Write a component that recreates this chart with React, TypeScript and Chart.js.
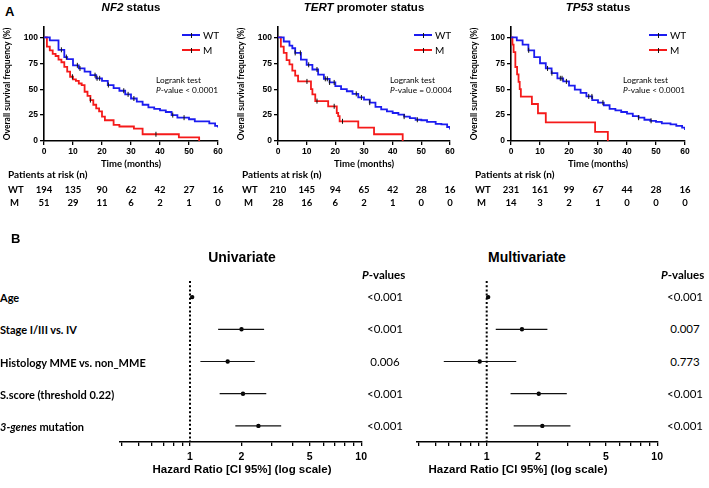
import React, { useEffect, useRef } from 'react';
import { Chart, registerables } from 'chart.js';
Chart.register(...registerables);

// ---------------- DATA ----------------
const MONTH_TICKS = [0, 10, 20, 30, 40, 50, 60];
const SURV_TICKS = [0, 25, 50, 75, 100];

// NF2
const NF2_WT_T = [0, 2, 5, 7, 8, 10, 12, 14, 16, 18, 20, 22, 24, 26, 28, 30, 32, 34, 36, 38, 40, 42, 44, 46, 50, 52, 57, 59, 60];
const NF2_WT_S = [100, 97, 88, 81, 79, 73, 70, 67, 63.5, 60.5, 58, 54, 51, 48.5, 45, 41, 38, 35, 32.5, 31, 29.5, 28, 25, 22.5, 21, 19, 17, 14.5, 13];
const NF2_WT_CENS = [6, 7.7, 11.5, 12.4, 17.6, 18.3, 19.2, 22.2, 27.5, 29, 31, 44.4, 48.3];
const NF2_M_T = [0, 1, 2, 3, 4, 5, 6, 7, 8, 9, 10, 11, 12, 13, 14, 15, 16, 17, 18, 19, 20, 21, 24, 26, 31, 34, 46.5, 53.5];
const NF2_M_S = [100, 91, 87.5, 84, 82, 78.5, 76, 71.5, 67, 62, 59.5, 58, 55.5, 54, 47.5, 43.5, 39.5, 35, 31.5, 28.5, 23.5, 20, 15.5, 14, 12, 6.5, 3.5, 0];
const NF2_M_CENS = [9.8, 16, 38.6];
const NF2_RISK_WT = [194, 135, 90, 62, 42, 27, 16];
const NF2_RISK_M = [51, 29, 11, 6, 2, 1, 0];

// TERT promoter
const TERT_WT_T = [0, 2, 4, 5, 6, 8, 10, 12, 14, 16, 18, 20, 22, 24, 26, 28, 30, 32, 34, 36, 38, 40, 42, 44, 46, 48, 50, 52, 55, 57, 59, 60];
const TERT_WT_S = [100, 96, 92, 89.5, 85, 78.5, 73.5, 69, 64, 60, 56.5, 53, 50, 48, 45.5, 42, 40, 37, 33, 30.5, 28.5, 27, 25.5, 23.5, 22, 20.5, 20, 18.5, 16.5, 16, 13.5, 11];
const TERT_WT_CENS = [6, 7.8, 10.7, 13.6, 16.5, 17.2, 18, 19.6, 27.3, 29.1, 32, 44, 48.6];
const TERT_M_T = [0, 1, 2, 3, 4, 5, 6, 7, 11.5, 12, 13, 17.5, 20.5, 21, 21.5, 28, 33.5, 43.5];
const TERT_M_S = [100, 91, 85, 78, 74, 68, 63, 57.5, 50, 45, 38.5, 33.5, 27, 24, 19, 13, 6.5, 0];
const TERT_M_CENS = [10.1, 13.6, 19.6, 22.5];
const TERT_RISK_WT = [210, 145, 94, 65, 42, 28, 16];
const TERT_RISK_M = [28, 16, 6, 2, 1, 0, 0];

// TP53
const TP53_WT_T = [0, 2, 4, 6, 8, 10, 12, 14, 16, 18, 20, 22, 24, 26, 28, 30, 32, 34, 36, 38, 40, 42, 44, 46, 48, 50, 52, 55, 57, 59, 60];
const TP53_WT_S = [100, 97, 93, 87.5, 81, 75, 70, 65.5, 60.5, 57.5, 53.5, 49.5, 46.5, 43, 39.5, 37, 34.5, 31, 29.5, 28, 26.5, 24, 22.5, 20.5, 19.5, 18.5, 17, 16, 14.5, 13, 10.5];
const TP53_WT_CENS = [6.1, 12.6, 14.1, 17, 17.6, 19.1, 26.8, 27.9, 31.7, 44, 48.3];
const TP53_M_T = [0, 0.5, 0.9, 1.5, 2.1, 2.6, 3.0, 3.4, 7.2, 9.3, 12, 29, 33.4];
const TP53_M_S = [100, 92.9, 85.7, 71.4, 64.3, 57.1, 50, 42.9, 35.7, 26.8, 17.9, 8.9, 0];
const TP53_M_CENS: number[] = [];
const TP53_RISK_WT = [231, 161, 99, 67, 44, 28, 16];
const TP53_RISK_M = [14, 3, 2, 1, 0, 0, 0];

const GENES = ['NF2', 'TERT', 'TP53'];
const TITLE_SUFFIX = [' status', ' promoter status', ' status'];
const LOGRANK_P = ['< 0.0001', '= 0.0004', '< 0.0001'];
const SERIES_NAMES = ['WT', 'M'];

// Forest plots
const FACTORS = ['Age', 'Stage I/III vs. IV', 'Histology MME vs. non_MME', 'S.score (threshold 0.22)', '3-genes mutation'];
const UNI_HR = [1.03, 2.0, 1.66, 2.04, 2.51];
const UNI_LO = [1.01, 1.46, 1.15, 1.49, 1.84];
const UNI_HI = [1.05, 2.71, 2.39, 2.79, 3.41];
const UNI_P = ['<0.001', '<0.001', '0.006', '<0.001', '<0.001'];
const MULTI_HR = [1.02, 1.61, 0.91, 2.02, 2.12];
const MULTI_LO = [1.01, 1.13, 0.56, 1.38, 1.44];
const MULTI_HI = [1.04, 2.27, 1.49, 2.95, 3.10];
const MULTI_P = ['<0.001', '0.007', '0.773', '<0.001', '<0.001'];
const HR_TICKS = [0.4, 0.5, 0.6, 0.7, 0.8, 0.9, 1, 2, 3, 4, 5, 6, 7, 8, 9, 10];
const HR_LABELS = [1, 2, 5, 10];

// ---------------- STYLE / LAYOUT ----------------
const CAL = "Lato, 'Liberation Sans', Arial, sans-serif";
const ARI = "'Liberation Sans', Arial, sans-serif";
const BLUE = '#1c1cf0';
const RED = '#f51a1a';
const KM_H = 172;
const KM_TOP = 27;
const KM_XAXIS_H = 31;
const KM_YAXIS_W = 44;
const AXIS_LEFT = [44, 278, 511];
const AXIS_RIGHT = [218, 450, 685];

const FOREST_TOP = 270;
const FOREST_H = 202;
const ROW_TOP = 281;
const ROW_H = 32.2;

function survAt(t: number[], s: number[], x: number) {
  let v = s[0];
  for (let i = 0; i < t.length; i++) if (t[i] <= x) v = s[i];
  return v;
}

type Curve = { t: number[]; s: number[]; cens: number[] };

const KM_DATA: { wt: Curve; m: Curve; riskWT: number[]; riskM: number[] }[] = [
  { wt: { t: NF2_WT_T, s: NF2_WT_S, cens: NF2_WT_CENS }, m: { t: NF2_M_T, s: NF2_M_S, cens: NF2_M_CENS }, riskWT: NF2_RISK_WT, riskM: NF2_RISK_M },
  { wt: { t: TERT_WT_T, s: TERT_WT_S, cens: TERT_WT_CENS }, m: { t: TERT_M_T, s: TERT_M_S, cens: TERT_M_CENS }, riskWT: TERT_RISK_WT, riskM: TERT_RISK_M },
  { wt: { t: TP53_WT_T, s: TP53_WT_S, cens: TP53_WT_CENS }, m: { t: TP53_M_T, s: TP53_M_S, cens: TP53_M_CENS }, riskWT: TP53_RISK_WT, riskM: TP53_RISK_M },
];

function Txt(props: { x: number; y: number; a?: 'l' | 'c' | 'r'; size: number; bold?: boolean; family?: string; children: React.ReactNode }) {
  const { x, y, a = 'l', size, bold, family = CAL, children } = props;
  const tx = a === 'l' ? '0' : a === 'c' ? '-50%' : '-100%';
  return (
    <div style={{ position: 'absolute', left: x, top: y, transform: `translate(${tx},-50%)`, fontSize: size, fontWeight: bold ? 700 : 400, fontFamily: family, lineHeight: 1, whiteSpace: 'nowrap', color: '#000' }}>
      {children}
    </div>
  );
}

function curveDataset(c: Curve, color: string, label: string) {
  return {
    label,
    data: c.t.map((t, i) => ({ x: t, y: c.s[i] })),
    showLine: true,
    stepped: 'before' as const,
    borderColor: color,
    backgroundColor: color,
    borderWidth: 1.8,
    pointRadius: 0,
    order: 2,
  };
}
function censDataset(c: Curve) {
  return {
    label: 'censored',
    data: c.cens.map((t) => ({ x: t, y: survAt(c.t, c.s, t) })),
    showLine: false,
    pointStyle: 'line' as const,
    rotation: 90,
    pointRadius: 2.5,
    borderColor: '#111',
    borderWidth: 1,
    order: 1,
  };
}

function KMChart({ idx }: { idx: number }) {
  const ref = useRef<HTMLCanvasElement>(null);
  const canvasLeft = AXIS_LEFT[idx] - KM_YAXIS_W;
  const width = AXIS_RIGHT[idx] + 12 - canvasLeft;
  useEffect(() => {
    const d = KM_DATA[idx];
    const tickFont = { family: ARI, size: 8.5, weight: 'bold' as const };
    const chart = new Chart(ref.current!, {
      type: 'scatter',
      data: {
        datasets: [
          curveDataset(d.wt, BLUE, SERIES_NAMES[0]),
          curveDataset(d.m, RED, SERIES_NAMES[1]),
          censDataset(d.wt),
          censDataset(d.m),
        ] as any,
      },
      options: {
        animation: false,
        responsive: false,
        events: [],
        layout: { padding: { left: 0, right: 12, top: KM_TOP, bottom: 0 } },
        plugins: { legend: { display: false }, tooltip: { enabled: false }, title: { display: false } },
        scales: {
          x: {
            type: 'linear',
            min: 0,
            max: 60,
            afterBuildTicks: (s: any) => { s.ticks = MONTH_TICKS.map((v) => ({ value: v })); },
            afterFit: (s: any) => { s.height = KM_XAXIS_H; },
            grid: { drawOnChartArea: false, drawTicks: true, tickLength: 4, color: '#000', lineWidth: 1.3 },
            border: { display: true, color: '#000', width: 1.6 },
            ticks: { color: '#000', font: tickFont, padding: 2, maxRotation: 0, autoSkip: false },
            title: { display: true, text: 'Time (months)', color: '#000', font: { family: CAL, size: 9.5, weight: 'bold' }, padding: { top: 0, bottom: 2 } },
          },
          y: {
            type: 'linear',
            min: 0,
            max: 110,
            afterBuildTicks: (s: any) => { s.ticks = SURV_TICKS.map((v) => ({ value: v })); },
            afterFit: (s: any) => { s.width = KM_YAXIS_W; },
            grid: { drawOnChartArea: false, drawTicks: true, tickLength: 4, color: '#000', lineWidth: 1.3 },
            border: { display: true, color: '#000', width: 1.6 },
            ticks: { color: '#000', font: tickFont, padding: 2, autoSkip: false },
            title: { display: true, text: 'Overall survival frequency (%)', color: '#000', font: { family: CAL, size: 8.5, weight: 'bold' }, padding: { top: 2, bottom: 0 } },
          },
        },
      } as any,
    });
    return () => chart.destroy();
  }, [idx]);
  return <canvas ref={ref} width={width} height={KM_H} style={{ position: 'absolute', left: canvasLeft, top: 0, width, height: KM_H }} />;
}

function KMPanel({ idx }: { idx: number }) {
  const aL = AXIS_LEFT[idx];
  const aR = AXIS_RIGHT[idx];
  const d = KM_DATA[idx];
  const xOf = (t: number) => aL + (t / 60) * (aR - aL);
  const legend = (y: number, color: string, name: string) => (
    <React.Fragment key={name}>
      <div style={{ position: 'absolute', left: aR - 36, top: y - 1, width: 18, height: 2, background: color }} />
      <div style={{ position: 'absolute', left: aR - 27.5, top: y - 2.5, width: 1, height: 5, background: '#111' }} />
      <Txt x={aR - 15} y={y} size={10} family={CAL}>{name}</Txt>
    </React.Fragment>
  );
  return (
    <>
      <KMChart idx={idx} />
      <Txt x={(aL + aR) / 2} y={8} a="c" size={11.5} bold family={ARI}>
        <i>{GENES[idx]}</i>{TITLE_SUFFIX[idx]}
      </Txt>
      {legend(35, BLUE, SERIES_NAMES[0])}
      {legend(50, RED, SERIES_NAMES[1])}
      <Txt x={aL + 112} y={79.5} size={8.3}>Logrank test</Txt>
      <Txt x={aL + 112} y={89.5} size={8.3}><i>P</i>-value {LOGRANK_P[idx]}</Txt>
      <Txt x={aL - 36} y={174} size={10} bold>Patients at risk (n)</Txt>
      <Txt x={aL - 36} y={190} size={9.5} bold>{SERIES_NAMES[0]}</Txt>
      <Txt x={aL - 34} y={203} size={9.5} bold>{SERIES_NAMES[1]}</Txt>
      {MONTH_TICKS.map((t, i) => (
        <React.Fragment key={t}>
          <Txt x={xOf(t)} y={190} a="c" size={9.5} bold>{d.riskWT[i]}</Txt>
          <Txt x={xOf(t)} y={203} a="c" size={9.5} bold>{d.riskM[i]}</Txt>
        </React.Fragment>
      ))}
    </>
  );
}

function ForestChart({ left, width, padLeft, hr, lo, hi }: { left: number; width: number; padLeft: number; hr: number[]; lo: number[]; hi: number[] }) {
  const ref = useRef<HTMLCanvasElement>(null);
  useEffect(() => {
    const datasets: any[] = [
      {
        label: 'ref',
        data: [{ x: 1, y: -0.5 }, { x: 1, y: FACTORS.length - 0.5 }],
        showLine: true,
        borderColor: '#000',
        borderWidth: 2,
        borderDash: [2, 2.2],
        pointRadius: 0,
      },
      ...hr.map((_, i) => ({
        label: 'ci' + i,
        data: [{ x: lo[i], y: i }, { x: hi[i], y: i }],
        showLine: true,
        borderColor: '#111',
        borderWidth: 1.2,
        pointRadius: 0,
      })),
      {
        label: 'HR',
        data: hr.map((v, i) => ({ x: v, y: i })),
        showLine: false,
        pointRadius: 2.2,
        backgroundColor: '#000',
        borderColor: '#000',
        borderWidth: 0,
      },
    ];
    const chart = new Chart(ref.current!, {
      type: 'scatter',
      data: { datasets },
      options: {
        animation: false,
        responsive: false,
        events: [],
        layout: { padding: { left: padLeft, right: 10, top: ROW_TOP - FOREST_TOP, bottom: 0 } },
        plugins: { legend: { display: false }, tooltip: { enabled: false } },
        scales: {
          x: {
            type: 'logarithmic',
            min: 0.39,
            max: 10,
            afterBuildTicks: (s: any) => { s.ticks = HR_TICKS.map((v) => ({ value: v })); },
            afterFit: (s: any) => { s.height = 30; },
            grid: { drawOnChartArea: false, drawTicks: true, tickLength: 4, color: '#000', lineWidth: 1.3 },
            border: { display: true, color: '#000', width: 1.6 },
            ticks: {
              color: '#000',
              font: { family: ARI, size: 10.5, weight: 'bold' },
              padding: 5,
              maxRotation: 0,
              autoSkip: false,
              callback: (v: any) => (HR_LABELS.includes(Number(v)) ? String(v) : ''),
            },
          },
          y: { type: 'linear', min: -0.5, max: FACTORS.length - 0.5, reverse: true, display: false },
        },
      } as any,
    });
    return () => chart.destroy();
  }, []);
  return <canvas ref={ref} width={width} height={FOREST_H} style={{ position: 'absolute', left, top: FOREST_TOP, width, height: FOREST_H }} />;
}

export default function App() {
  const rowY = (i: number) => ROW_TOP + (i + 0.5) * ROW_H;
  return (
    <div style={{ position: 'absolute', left: 0, top: 0, width: 709, height: 488, background: '#fff', overflow: 'hidden' }}>
      <Txt x={5} y={10.5} size={13} bold family={ARI}>A</Txt>
      {[0, 1, 2].map((i) => <KMPanel key={i} idx={i} />)}

      <Txt x={11} y={238} size={13} bold family={ARI}>B</Txt>
      <Txt x={242} y={257} a="c" size={14} bold family={ARI}>Univariate</Txt>
      <Txt x={527} y={257} a="c" size={14} bold family={ARI}>Multivariate</Txt>

      <ForestChart left={100} width={272} padLeft={20} hr={UNI_HR} lo={UNI_LO} hi={UNI_HI} />
      <ForestChart left={397} width={271} padLeft={20} hr={MULTI_HR} lo={MULTI_LO} hi={MULTI_HI} />

      {FACTORS.map((f, i) => (
        <Txt key={f} x={0} y={rowY(i)} size={11} bold>
          {i === 4 ? (<><i>3-genes</i> mutation</>) : f}
        </Txt>
      ))}
      <Txt x={362} y={275} size={11.5} bold><i>P</i>-values</Txt>
      <Txt x={661} y={275} size={11.5} bold><i>P</i>-values</Txt>
      {UNI_P.map((p, i) => <Txt key={'u' + i} x={385} y={rowY(i)} a="c" size={11.5}>{p}</Txt>)}
      {MULTI_P.map((p, i) => <Txt key={'m' + i} x={685} y={rowY(i)} a="c" size={11.5}>{p}</Txt>)}

      <Txt x={242} y={470} a="c" size={11.5} bold family={ARI}>Hazard Ratio [CI 95%] (log scale)</Txt>
      <Txt x={518} y={470} a="c" size={11.5} bold family={ARI}>Hazard Ratio [CI 95%] (log scale)</Txt>
    </div>
  );
}
